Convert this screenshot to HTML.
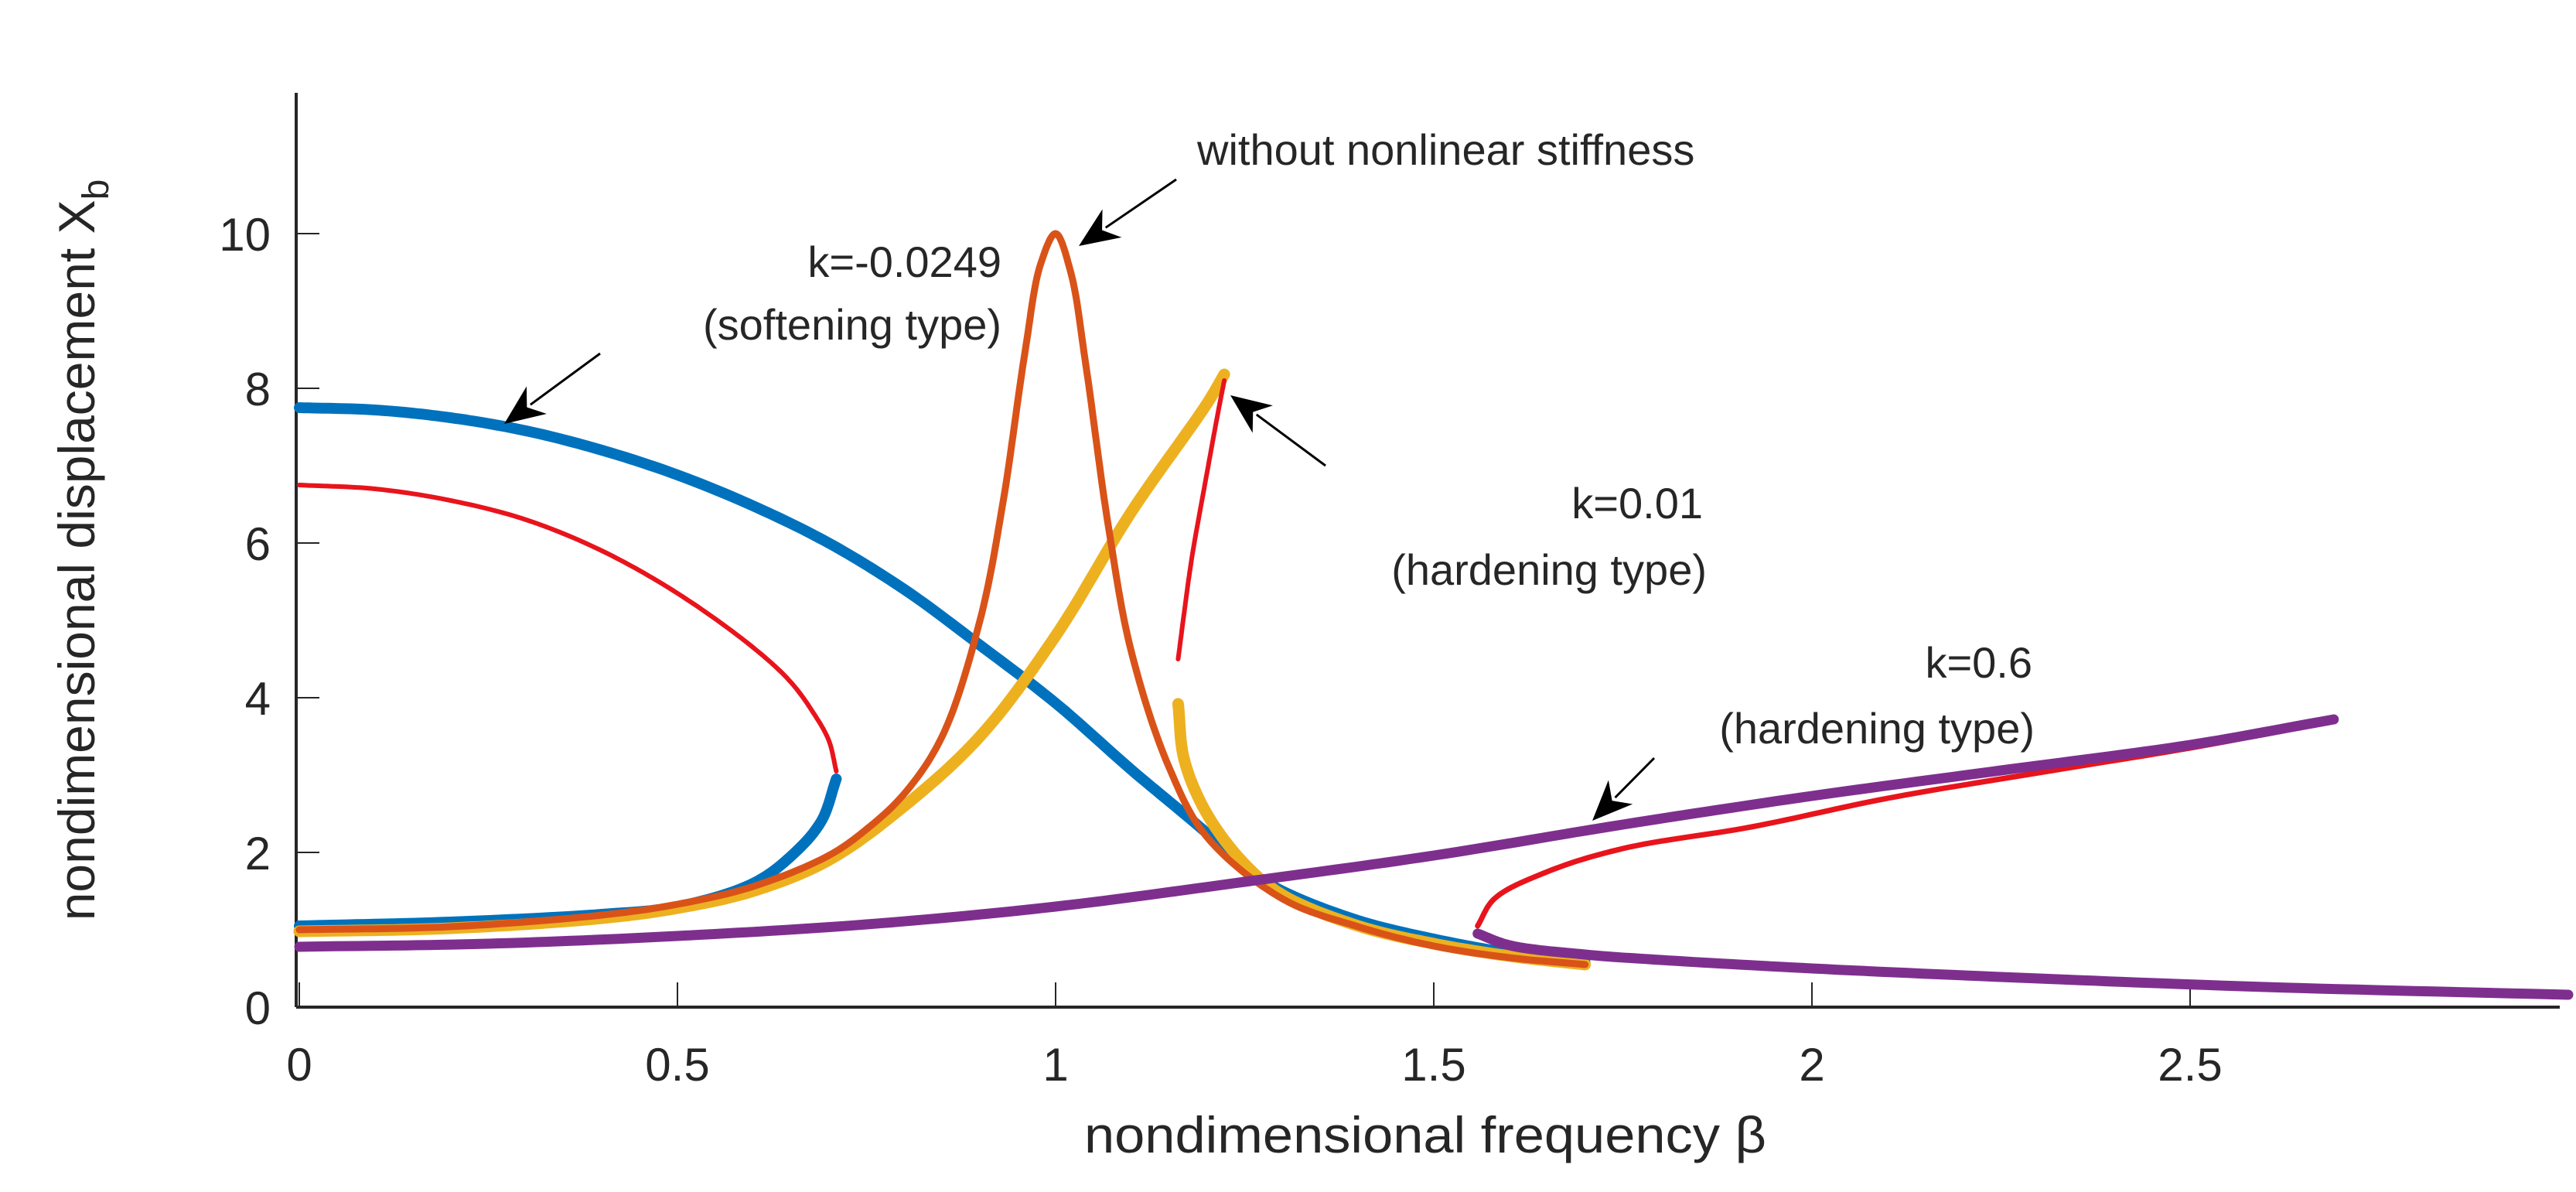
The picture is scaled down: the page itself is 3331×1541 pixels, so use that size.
<!DOCTYPE html>
<html><head><meta charset="utf-8"><style>
html,body{margin:0;padding:0;background:#fff}
svg{display:block}
text{font-family:"Liberation Sans",Arial,sans-serif;fill:#262626}
</style></head><body>
<svg id="chart" width="3331" height="1541" viewBox="0 0 3331 1541" xmlns="http://www.w3.org/2000/svg">
<g id="axes"></g>
<g id="series"></g>
<g id="annot"></g>
</svg>
<script>
const xTicks=[0,0.5,1,1.5,2,2.5];
const xTickLabels=["0","0.5","1","1.5","2","2.5"];
const yTicks=[0,2,4,6,8,10];
const yTickLabels=["0","2","4","6","8","10"];
// linear (without nonlinear stiffness)
const orangeX=[0,0.2,0.4,0.5,0.6,0.7,0.75,0.8,0.85,0.9,0.93,0.96,0.98,1.0,1.02,1.04,1.07,1.1,1.15,1.2,1.3,1.4,1.5,1.6,1.7];
const orangeY=[1.0,1.04,1.19,1.33,1.56,1.96,2.3,2.76,3.5,5.0,6.5,8.5,9.6,10,9.5,8.3,6.2,4.6,3.1,2.2,1.4,1.04,0.79,0.64,0.55];
// softening k=-0.0249
const blueUpX=[0,0.1,0.2,0.3,0.4,0.5,0.6,0.7,0.8,0.9,1.0,1.1,1.2,1.25,1.3,1.4,1.5,1.6,1.7];
const blueUpY=[7.75,7.72,7.62,7.45,7.2,6.88,6.48,6.0,5.4,4.68,3.93,3.07,2.25,1.8,1.5,1.12,0.88,0.7,0.58];
const blueLoX=[0,0.2,0.4,0.5,0.6,0.65,0.69,0.71];
const blueLoY=[1.05,1.1,1.2,1.3,1.6,1.95,2.4,2.95];
const redSoftX=[0,0.1,0.2,0.3,0.4,0.5,0.6,0.65,0.68,0.70,0.71];
const redSoftY=[6.75,6.7,6.55,6.3,5.9,5.35,4.65,4.2,3.8,3.45,3.05];
// hardening k=0.01
const yellowUpX=[0,0.2,0.4,0.5,0.6,0.7,0.8,0.9,1.0,1.1,1.2,1.223];
const yellowUpY=[0.98,1.02,1.15,1.28,1.5,1.9,2.6,3.5,4.8,6.4,7.8,8.18];
const yellowLoX=[1.162,1.17,1.2,1.25,1.3,1.4,1.5,1.6,1.7];
const yellowLoY=[3.92,3.2,2.5,1.85,1.45,1.05,0.82,0.66,0.55];
const redHardX=[1.162,1.17,1.18,1.2,1.215,1.223];
const redHardY=[4.5,5.1,5.8,6.9,7.7,8.1];
// hardening k=0.6
const purpleUpX=[0,0.25,0.5,0.75,1.0,1.25,1.5,1.75,2.0,2.25,2.5,2.69];
const purpleUpY=[0.78,0.82,0.92,1.07,1.3,1.62,1.96,2.36,2.73,3.06,3.39,3.72];
const purpleLoX=[1.558,1.6,1.7,1.8,2.0,2.3,2.6,3.0];
const purpleLoY=[0.95,0.8,0.68,0.61,0.5,0.37,0.26,0.16];
const redP_X=[1.558,1.58,1.65,1.75,1.92,2.1,2.3,2.5,2.69];
const redP_Y=[1.05,1.4,1.75,2.05,2.33,2.7,3.03,3.35,3.7];

const NS="http://www.w3.org/2000/svg";
const X0=387,XS=978,Y0=1302,YS=100;
function sx(v){return X0+XS*v;}
function sy(v){return Y0-YS*v;}
function mk(tag,parent,attrs){const e=document.createElementNS(NS,tag);for(const k in attrs)e.setAttribute(k,attrs[k]);parent.appendChild(e);return e;}
// centripetal Catmull-Rom sampled densely
function pathFrom(xs,ys){
  const p=xs.map((x,i)=>[sx(x),sy(ys[i])]);
  const n=p.length;
  const ext=[[2*p[0][0]-p[1][0],2*p[0][1]-p[1][1]],...p,[2*p[n-1][0]-p[n-2][0],2*p[n-1][1]-p[n-2][1]]];
  let d="M"+p[0][0].toFixed(1)+","+p[0][1].toFixed(1);
  for(let i=1;i<ext.length-2;i++){
    const P0=ext[i-1],P1=ext[i],P2=ext[i+1],P3=ext[i+2];
    const tj=(a,b)=>Math.pow(Math.hypot(b[0]-a[0],b[1]-a[1])+1e-6,0.5);
    const t0=0,t1=t0+tj(P0,P1),t2=t1+tj(P1,P2),t3=t2+tj(P2,P3);
    for(let s=1;s<=16;s++){
      const t=t1+(t2-t1)*s/16;
      const L=(A,B,ta,tb)=>[(tb-t)/(tb-ta)*A[0]+(t-ta)/(tb-ta)*B[0],(tb-t)/(tb-ta)*A[1]+(t-ta)/(tb-ta)*B[1]];
      const A1=L(P0,P1,t0,t1),A2=L(P1,P2,t1,t2),A3=L(P2,P3,t2,t3);
      const B1=L(A1,A2,t0,t2),B2=L(A2,A3,t1,t3);
      const C=L(B1,B2,t1,t2);
      d+=" L"+C[0].toFixed(1)+","+C[1].toFixed(1);
    }
  }
  return d;
}
const axes=document.getElementById('axes');
const series=document.getElementById('series');
const annot=document.getElementById('annot');
let el=mk('line',axes,{x1:383,y1:120,x2:383,y2:1302,stroke:'#262626','stroke-width':4});


el=mk('line',axes,{x1:383,y1:1302,x2:3310,y2:1302,stroke:'#262626','stroke-width':4});


xTicks.forEach((t,i)=>{
  const tk=mk('line',axes,{x1:sx(t),y1:1302,x2:sx(t),y2:1270,stroke:'#262626','stroke-width':2});
  
  
  const tl=mk('text',axes,{x:sx(t),y:1397,'font-size':60,'text-anchor':'middle'});
  tl.textContent=xTickLabels[i];
  
  
});
yTicks.forEach((t,i)=>{
  const tk=mk('line',axes,{x1:383,y1:sy(t),x2:413,y2:sy(t),stroke:'#262626','stroke-width':2});
  
  
  const tl=mk('text',axes,{x:350,y:sy(t)+22,'font-size':60,'text-anchor':'end'});
  tl.textContent=yTickLabels[i];
  
  
});
el=mk('text',axes,{x:1843,y:1490,'font-size':66,'text-anchor':'middle',textLength:882,lengthAdjust:'spacingAndGlyphs'});
el.textContent='nondimensional frequency β';


el=mk('text',axes,{transform:'translate(122,711) rotate(-90)','font-size':66,'text-anchor':'middle'});
el.innerHTML='nondimensional displacement X<tspan dy="18" font-size="48">b</tspan>';



function draw(xs,ys,color,w,name){
  const p=mk('path',series,{d:pathFrom(xs,ys),fill:'none',stroke:color,'stroke-width':w,'stroke-linecap':'round','stroke-linejoin':'round'});
  
  
}
draw(redSoftX,redSoftY,'#E8141C',6,'softening-unstable-branch');
draw(blueUpX,blueUpY,'#0072BD',14,'softening-upper-branch');
draw(blueLoX,blueLoY,'#0072BD',14,'softening-lower-branch');
draw(yellowUpX,yellowUpY,'#EDB120',15,'hardening-001-upper-branch');
draw(yellowLoX,yellowLoY,'#EDB120',15,'hardening-001-lower-branch');
draw(redHardX,redHardY,'#E8141C',6,'hardening-001-unstable-branch');
draw(orangeX,orangeY,'#D95319',9,'linear-response-curve');
draw(redP_X,redP_Y,'#E8141C',7,'hardening-06-unstable-branch');
draw(purpleUpX,purpleUpY,'#7E2F8E',13,'hardening-06-upper-branch');
draw(purpleLoX,purpleLoY,'#7E2F8E',13,'hardening-06-lower-branch');

function label(txt,x,y,anchor,name){
  const t=mk('text',annot,{x:x,y:y,'font-size':56,'text-anchor':anchor});
  t.textContent=txt;
  
  
}
label('without nonlinear stiffness',1548,213,'start','label-linear');
label('k=-0.0249',1295,358,'end','label-softening-k');
label('(softening type)',1295,439,'end','label-softening-type');
label('k=0.01',2202,670,'end','label-hardening-001-k');
label('(hardening type)',2207,756,'end','label-hardening-001-type');
label('k=0.6',2628,876,'end','label-hardening-06-k');
label('(hardening type)',2631,961,'end','label-hardening-06-type');
function arrow(x1,y1,x2,y2,name){
  const g=mk('g',annot,{});
  
  
  const dx=x2-x1,dy=y2-y1,L=Math.hypot(dx,dy),ux=dx/L,uy=dy/L;
  const hl=52,hw=22;
  const bx=x2-ux*hl,by=y2-uy*hl;
  mk('line',g,{x1:x1,y1:y1,x2:bx+ux*10,y2:by+uy*10,stroke:'#000','stroke-width':3});
  const nx=-uy,ny=ux;
  mk('path',g,{d:`M${x2},${y2} L${bx+nx*hw},${by+ny*hw} L${x2-ux*hl*0.7},${y2-uy*hl*0.7} L${bx-nx*hw},${by-ny*hw} Z`,fill:'#000'});
}
arrow(1521,232,1395,318,'arrow-linear');
arrow(776,457,652,548,'arrow-softening');
arrow(1714,602,1591,511,'arrow-hardening-001');
arrow(2139,980,2059,1061,'arrow-hardening-06');
</script>
</body></html>
